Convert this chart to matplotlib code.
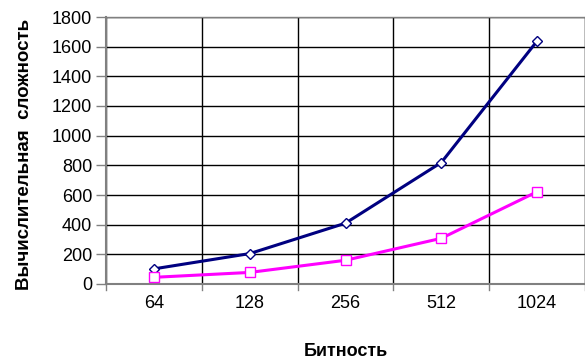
import matplotlib
matplotlib.use("Agg")
import matplotlib.pyplot as plt
import numpy as np

plt.rcParams['font.family'] = ['Liberation Sans', 'DejaVu Sans']

categories = ["64", "128", "256", "512", "1024"]
series_a = [102, 205, 410, 819, 1638]
series_b = [45, 78, 160, 308, 622]
yticks = [0, 200, 400, 600, 800, 1000, 1200, 1400, 1600, 1800]

fig = plt.figure(figsize=(5.85, 3.6), dpi=100)
ax = fig.add_axes([106/585, 1 - 284/360, (585-106)/585, (284-17)/360])

x = np.arange(len(categories))
ax.plot(x, series_a, color="#000080", lw=2.2, marker="D", ms=5.5,
        mfc="white", mec="#000080", mew=1.0, zorder=3, clip_on=False)
ax.plot(x, series_b, color="#ff00ff", lw=2.2, marker="s", ms=6.5,
        mfc="white", mec="#ff00ff", mew=1.0, zorder=3, clip_on=False)

ax.set_xlim(-0.5, len(categories) - 0.5)
ax.set_ylim(0, 1800)
ax.set_yticks(yticks)
ax.set_yticklabels([str(v) for v in yticks], fontsize=13)
ax.set_xticks(x)
ax.set_xticklabels(categories, fontsize=13)
ax.tick_params(axis='x', length=0, pad=8)
ax.tick_params(axis='y', length=7, width=1, color="#808080", pad=3)

# gridlines
for v in yticks[1:]:
    ax.axhline(v, color="black", lw=1, zorder=1)
for b in np.arange(-0.5, len(categories), 1.0):
    ax.axvline(b, color="black", lw=1, zorder=1)
    ax.plot([b, b], [0, -0.022], transform=ax.get_xaxis_transform(),
            color="#808080", lw=1, clip_on=False)

for s in ["top", "right"]:
    ax.spines[s].set_color("#808080")
    ax.spines[s].set_linewidth(1)
ax.spines["left"].set_color("#808080")
ax.spines["left"].set_linewidth(1.5)
ax.spines["bottom"].set_color("#808080")
ax.spines["bottom"].set_linewidth(1.5)

ax.set_xlabel("Битность", fontsize=13, fontweight="bold", labelpad=22)
ax.set_ylabel("Вычислительная  сложность", fontsize=13.5, fontweight="bold")
ax.yaxis.set_label_coords(-81/479, 0.487)
ax.yaxis.label.set_verticalalignment("center")

fig.savefig("out.png", dpi=100)
